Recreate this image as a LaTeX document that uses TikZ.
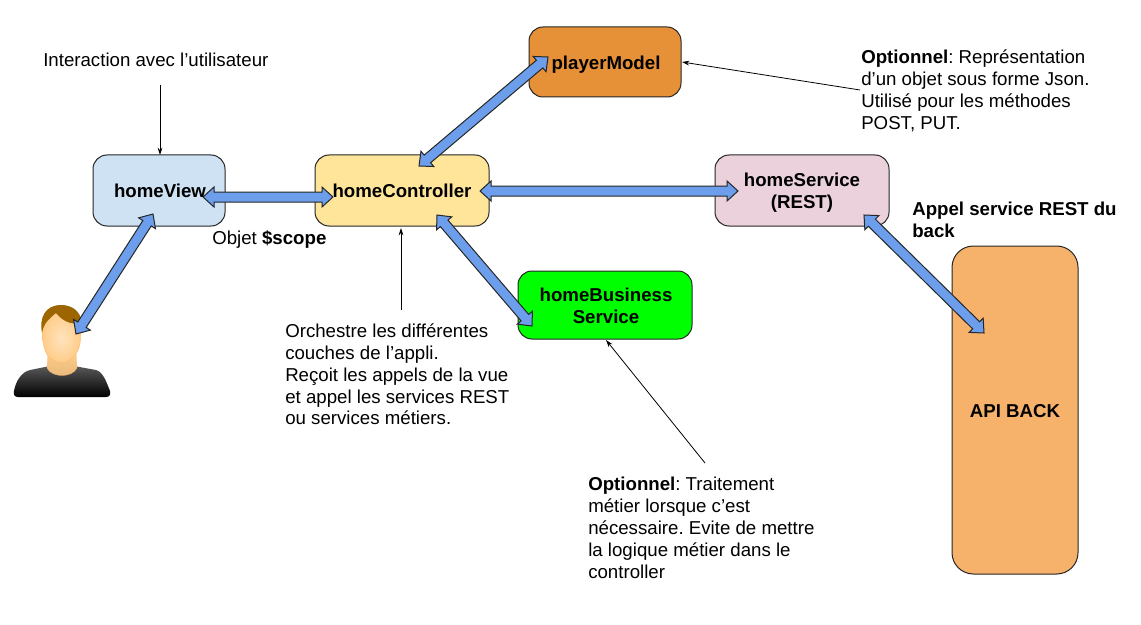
\documentclass[tikz,border=0pt]{standalone}
\usepackage{fontspec}
\setmainfont{Liberation Sans}
\usetikzlibrary{calc,arrows.meta}
\definecolor{viewc}{HTML}{CFE2F3}
\definecolor{ctrlc}{HTML}{FFE599}
\definecolor{modelc}{HTML}{E69138}
\definecolor{servc}{HTML}{EAD1DC}
\definecolor{busc}{HTML}{00FF00}
\definecolor{apic}{HTML}{F6B26B}
\definecolor{arrc}{HTML}{6D9EEB}
\definecolor{hairc}{HTML}{9C6500}
\definecolor{skinc}{HTML}{FFCC88}
\definecolor{skinl}{HTML}{FFE3BD}
\tikzset{
  box/.style={draw=black!85,line width=0.75pt,rounded corners=10.5pt,inner sep=0pt,font=\fontsize{14}{16.4}\selectfont\bfseries,align=center},
  note/.style={anchor=north west,inner sep=0pt,align=left,font=\frenchspacing\fontsize{14}{16.4}\selectfont},
  thin arrow/.style={draw=black,line width=0.6pt,-{Stealth[length=5.5pt,width=3.5pt]}},
  block/.style={draw=black!85,fill=arrc,line width=0.75pt,line join=miter}
}
\newcommand{\blockarrow}[2]{%
  \draw[block] let \p1=($(#1)!8.25pt!(#2)$), \p2=($(#2)!8.25pt!(#1)$) in
    (#1) -- ($(\p1)!7.5pt!90:(#1)$) -- ($(\p1)!3.75pt!90:(#1)$)
    -- ($(\p2)!3.75pt!-90:(#2)$) -- ($(\p2)!7.5pt!-90:(#2)$)
    -- (#2) -- ($(\p2)!7.5pt!90:(#2)$) -- ($(\p2)!3.75pt!90:(#2)$)
    -- ($(\p1)!3.75pt!-90:(#1)$) -- ($(\p1)!7.5pt!-90:(#1)$) -- cycle;}
\begin{document}
\begin{tikzpicture}[x=0.75pt,y=-0.75pt]
\useasboundingbox (0,0) rectangle (1141,624);
% boxes
\node[box,fill=viewc,minimum width=99pt,minimum height=53.25pt] (view) at (159,190.5) {};
\node[box,fill=ctrlc,minimum width=130.5pt,minimum height=53.25pt] (ctrl) at (402,190.5) {};
\node[box,fill=modelc,minimum width=114pt,minimum height=52.5pt] (model) at (605,62) {};
\node[box,fill=servc,minimum width=130.5pt,minimum height=53.25pt] (serv) at (802,190.5) {};
\node[box,fill=busc,minimum width=130.5pt,minimum height=51pt] (bus) at (605,305) {};
\node[box,fill=apic,minimum width=94.5pt,minimum height=246pt,rounded corners=16pt] (api) at (1015,410) {};
\node[box,draw=none] (viewt) at (160,190.5) {homeView};
\node[box,draw=none] (ctrlt) at (402,190.5) {homeController};
\node[box,draw=none] (modelt) at (606,65) {playerModel};
\node[box,draw=none] (servt) at (802,193) {homeService\\(REST)};
\node[box,draw=none] (bust) at (606,305.5) {homeBusiness\\Service};
\node[box,draw=none] (apit) at (1015,411.5) {API BACK};
% person
\shade[top color=black!65,bottom color=black] (14,391) .. controls (16,380) and (22,372) .. (30,370) -- (50,366) -- (74,366) -- (96,370) .. controls (103,372) and (106,381) .. (110,391) .. controls (111,395) and (109,397) .. (106,397) -- (18,397) .. controls (15,397) and (13,395) .. (14,391) -- cycle;
\shade[top color=skinc,bottom color=skinc!90!black,draw=orange!60,line width=0.2pt] (48,354) -- (76,354) -- (77,368) .. controls (72,378) and (52,378) .. (47,368) -- cycle;
\shade[inner color=skinl,outer color=skinc,draw=orange!60,line width=0.2pt] (42,326) .. controls (42,313) and (52,312) .. (62,312) .. controls (74,312) and (81,316) .. (81,328) .. controls (81,345) and (79,353) .. (72,358) .. controls (66,364) and (56,364) .. (50,358) .. controls (44,353) and (42,342) .. (42,326) -- cycle;
\fill[hairc] (42,333) .. controls (39,318) and (45,305) .. (61,305) .. controls (72,305) and (80,311) .. (82,322) .. controls (75,325) and (65,324) .. (56,313) .. controls (50,318) and (44,322) .. (42,333) -- cycle;
% arrows
\coordinate (a1) at (203,197); \coordinate (a2) at (333,197);
\coordinate (b1) at (153,214); \coordinate (b2) at (76,334);
\coordinate (c1) at (548,57);  \coordinate (c2) at (419,166);
\coordinate (d1) at (480,191); \coordinate (d2) at (738,191);
\coordinate (e1) at (437,215); \coordinate (e2) at (532,326);
\coordinate (f1) at (864,215); \coordinate (f2) at (984,333);
\blockarrow{a1}{a2}
\blockarrow{b1}{b2}
\blockarrow{c1}{c2}
\blockarrow{d1}{d2}
\blockarrow{e1}{e2}
\blockarrow{f1}{f2}
% notes
\node[note] (n1) at (43,53) {Interaction avec l’utilisateur};
\node[note] (n2) at (212,230) {Objet \textbf{\$scope}};
\node[note] (n3) at (285,323.5) {Orchestre les différentes\\couches de l’appli.\\Reçoit les appels de la vue\\et appel les services REST\\ou services métiers.};
\node[note] (n4) at (861,49.5) {\textbf{Optionnel}: Représentation\\d’un objet sous forme Json.\\Utilisé pour les méthodes\\POST, PUT.};
\node[note] (n5) at (912,202) {\textbf{Appel service REST du}\\\textbf{back}};
\node[note] (n6) at (588,477) {\textbf{Optionnel}: Traitement\\métier lorsque c’est\\nécessaire. Evite de mettre\\la logique métier dans le\\controller};
% thin connectors
\coordinate (t1) at (160,85);
\coordinate (t2) at (401,310);
\coordinate (t3) at (860,90);
\coordinate (t4) at (705,463);
\draw[thin arrow] (t1) -- (160,155);
\draw[thin arrow] (t2) -- (401,228);
\draw[thin arrow] (t3) -- (682,62);
\draw[thin arrow] (t4) -- (606,340);
\end{tikzpicture}
\end{document}
